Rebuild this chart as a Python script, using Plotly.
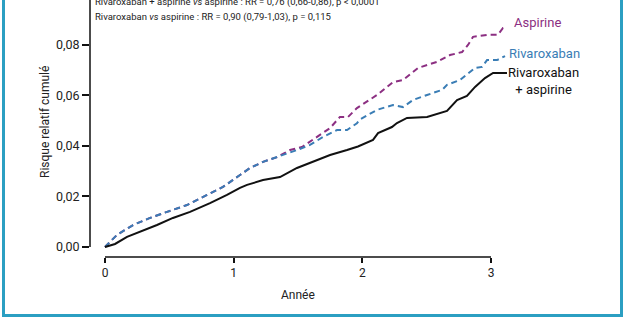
import plotly.graph_objects as go

# ---- data ----
aspirine_t = [0, 0.093, 0.218, 0.35, 0.482, 0.637, 0.793, 0.917, 1.049, 1.127, 1.228, 1.337,
              1.438, 1.531, 1.648, 1.749, 1.826, 1.889, 1.958, 2.06, 2.114, 2.238, 2.316, 2.433,
              2.58, 2.681, 2.775, 2.821, 2.86, 2.969, 3.054, 3.093, 3.124]
aspirine_v = [0, 0.0048, 0.0087, 0.0115, 0.0139, 0.0166, 0.0206, 0.0238, 0.0285, 0.0313, 0.0337, 0.0356,
              0.0384, 0.0396, 0.0436, 0.0471, 0.0515, 0.0515, 0.055, 0.0582, 0.0602, 0.0653, 0.0661, 0.0709,
              0.0733, 0.076, 0.0772, 0.08, 0.0832, 0.084, 0.084, 0.0867, 0.0867]

rivaroxaban_t = [0, 0.093, 0.218, 0.35, 0.482, 0.637, 0.793, 0.917, 1.049, 1.127, 1.228, 1.337,
                 1.383, 1.492, 1.593, 1.694, 1.803, 1.881, 1.958, 1.982, 2.114, 2.238, 2.316, 2.394,
                 2.503, 2.62, 2.658, 2.759, 2.876, 2.93, 2.969, 3.047, 3.109]
rivaroxaban_v = [0, 0.0048, 0.0087, 0.0115, 0.0139, 0.0166, 0.0206, 0.0238, 0.0285, 0.0313, 0.0337, 0.0356,
                 0.0364, 0.0384, 0.0404, 0.0436, 0.0463, 0.0463, 0.049, 0.0505, 0.0543, 0.0562, 0.0554, 0.0582,
                 0.0602, 0.0622, 0.0642, 0.0661, 0.0709, 0.0713, 0.074, 0.074, 0.0756]

combo_t = [0, 0.078, 0.171, 0.272, 0.404, 0.528, 0.661, 0.816, 0.948, 1.049, 1.104, 1.228, 1.36,
           1.492, 1.617, 1.749, 1.881, 1.966, 2.083, 2.122, 2.23, 2.269, 2.347, 2.503, 2.658, 2.736,
           2.813, 2.876, 2.953, 3.016, 3.124]
combo_v = [0, 0.0012, 0.004, 0.0059, 0.0087, 0.0115, 0.0139, 0.0174, 0.0206, 0.0234, 0.0246, 0.0265, 0.0277,
           0.0313, 0.0337, 0.0364, 0.0384, 0.0398, 0.0424, 0.0451, 0.0475, 0.0491, 0.0511, 0.0515, 0.0539, 0.0582,
           0.0598, 0.0634, 0.0669, 0.0689, 0.0689]

y_ticks = [0, 0.02, 0.04, 0.06, 0.08]
y_ticktext = ["0,00", "0,02", "0,04", "0,06", "0,08"]
x_ticks = [0, 1, 2, 3]

PURPLE = "#8c2f82"
BLUE = "#3a7db5"
BLACK = "#111111"
FRAME = "#2b9fc2"
FONT = "Roboto"

fig = go.Figure()
fig.add_trace(go.Scatter(x=aspirine_t, y=aspirine_v, mode="lines",
                         line=dict(color=PURPLE, width=2, dash="6px,4px"), name="Aspirine"))
fig.add_trace(go.Scatter(x=rivaroxaban_t, y=rivaroxaban_v, mode="lines",
                         line=dict(color=BLUE, width=2, dash="6px,4px"), name="Rivaroxaban"))
fig.add_trace(go.Scatter(x=combo_t, y=combo_v, mode="lines",
                         line=dict(color=BLACK, width=2), name="Rivaroxaban + aspirine"))

W, H = 627, 336
L, R, T, B = 90, 27, 0, 79
pw, ph = W - L - R, H - T - B

def px(xp):
    return (xp - L) / pw

def py(yp):
    return (H - B - yp) / ph

fig.update_layout(
    width=W, height=H, margin=dict(l=L, r=R, t=T, b=B),
    paper_bgcolor="white", plot_bgcolor="rgba(0,0,0,0)",
    showlegend=False,
    font=dict(family=FONT, color="#222222"),
    xaxis=dict(range=[-0.1166, 3.847], tickvals=x_ticks, ticks="outside", ticklen=5,
               tickwidth=1.5, tickcolor=BLACK, showgrid=False, zeroline=False, showline=False,
               tickfont=dict(size=12, color="#222")),
    yaxis=dict(range=[-0.00396, 0.0978], tickvals=y_ticks, ticktext=y_ticktext, ticks="outside",
               ticklen=7, tickwidth=1.5, tickcolor=BLACK, showgrid=False, zeroline=False,
               showline=False, tickfont=dict(size=12.5, color="#222")),
    shapes=[
        dict(type="rect", xref="paper", yref="paper", x0=px(3.5), x1=px(621.5), y0=py(315.5), y1=1.2,
             line=dict(color=FRAME, width=3), fillcolor="white", layer="below"),
        dict(type="line", xref="x", yref="paper", x0=0, x1=3, y0=0, y1=0,
             line=dict(color=BLACK, width=1.5)),
        dict(type="line", xref="paper", yref="y", x0=0, x1=0, y0=0, y1=0.11,
             line=dict(color=BLACK, width=1.5)),
    ],
    annotations=[
        dict(text="Rivaroxaban + aspirine <i>vs</i> aspirine : RR = 0,76 (0,66-0,86), p < 0,0001",
             xref="paper", yref="paper", x=px(93), y=py(2.5), xanchor="left", yanchor="middle",
             showarrow=False, font=dict(size=9.5, color="#222")),
        dict(text="Rivaroxaban <i>vs</i> aspirine : RR = 0,90 (0,79-1,03), p = 0,115",
             xref="paper", yref="paper", x=px(93), y=py(17), xanchor="left", yanchor="middle",
             showarrow=False, font=dict(size=9.5, color="#222")),
        dict(text="Aspirine", xref="paper", yref="paper", x=px(512), y=py(22),
             xanchor="left", yanchor="middle", showarrow=False, font=dict(size=13, color=PURPLE)),
        dict(text="Rivaroxaban", xref="paper", yref="paper", x=px(507), y=py(53),
             xanchor="left", yanchor="middle", showarrow=False, font=dict(size=13, color=BLUE)),
        dict(text="Rivaroxaban<br>+ aspirine", xref="paper", yref="paper", x=px(543.5), y=py(81),
             xanchor="center", yanchor="middle", align="center", showarrow=False,
             font=dict(size=13, color=BLACK)),
        dict(text="Année", xref="paper", yref="paper", x=px(298), y=py(295),
             xanchor="center", yanchor="middle", showarrow=False, font=dict(size=12, color="#222")),
        dict(text="Risque relatif cumulé", xref="paper", yref="paper", x=px(45), y=py(122),
             xanchor="center", yanchor="middle", textangle=-90, showarrow=False,
             font=dict(size=12, color="#222")),
    ],
)

fig.write_html("out.html")
